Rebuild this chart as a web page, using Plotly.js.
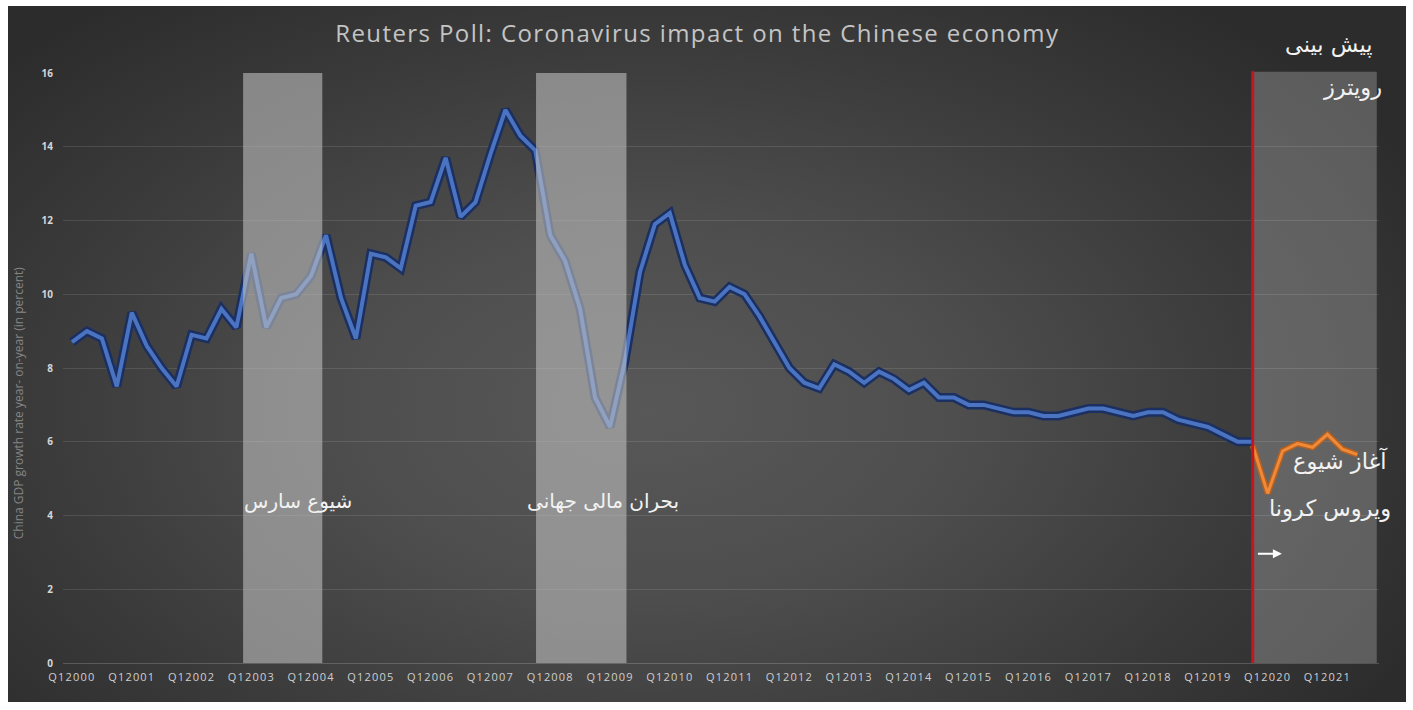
<!DOCTYPE html>
<html>
<head>
<meta charset="utf-8">
<script src="https://cdn.plot.ly/plotly-3.0.1.min.js"></script>
<style>
  html, body { margin: 0; padding: 0; background: #ffffff; width: 1413px; height: 710px; overflow: hidden; }
  #bg { position: absolute; left: 8px; top: 6px; right: 7px; bottom: 8px;
        background: radial-gradient(ellipse 62% 75% at 46% 58%, #585858 0%, #4e4e4e 35%, #3b3b3b 70%, #2c2c2c 100%); }
  #chart { position: absolute; left: 0; top: 0; width: 1413px; height: 710px; }
  #chart .gtitle { letter-spacing: 1.4px; }
  #chart .xtick text { letter-spacing: 1.2px; }
</style>
</head>
<body>
<div id="bg"></div>
<div id="chart"></div>
<script>
// ---- data ----
const years = [];
for (let y = 2000; y <= 2021; y++) years.push(y);
const quarterLabels = [];
years.forEach(y => { for (let q = 1; q <= 4; q++) quarterLabels.push('Q' + q + y); });

const tickIdx = years.map((y, i) => i * 4);
const tickText = years.map(y => 'Q1' + y);

const gdpActual = [
  8.7, 9.0, 8.8, 7.5, 9.5, 8.6, 8.0, 7.5, 8.9, 8.8,
  9.6, 9.1, 11.1, 9.1, 9.9, 10.0, 10.5, 11.6, 9.9, 8.8,
  11.1, 11.0, 10.7, 12.4, 12.5, 13.7, 12.1, 12.5, 13.8, 15.0,
  14.3, 13.9, 11.6, 10.9, 9.6, 7.2, 6.4, 8.2, 10.6, 11.9,
  12.2, 10.8, 9.9, 9.8, 10.2, 10.0, 9.4, 8.7, 8.0, 7.6,
  7.45, 8.1, 7.9, 7.6, 7.9, 7.7, 7.4, 7.6, 7.2, 7.2,
  7.0, 7.0, 6.9, 6.8, 6.8, 6.7, 6.7, 6.8, 6.9, 6.9,
  6.8, 6.7, 6.8, 6.8, 6.6, 6.5, 6.4, 6.2, 6.0, 6.0
];
const gdpForecast = [5.9, 4.6, 5.75, 5.95, 5.85, 6.2, 5.8, 5.65];

const actualX = gdpActual.map((v, i) => i);
const forecastStart = gdpActual.length - 1;
const forecastX = gdpForecast.map((v, i) => forecastStart + i);

const sarsPeriod = [11.45, 16.75];
const crisisPeriod = [31.05, 37.1];
const forecastPeriod = [79, 87.3];

// ---- traces ----
const traces = [
  { x: actualX, y: gdpActual, type: 'scatter', mode: 'lines',
    line: { color: '#1b2f60', width: 9 }, hoverinfo: 'skip', showlegend: false },
  { x: actualX, y: gdpActual, type: 'scatter', mode: 'lines',
    line: { color: '#4a74c2', width: 4 }, showlegend: false,
    text: actualX.map(i => quarterLabels[i]), hovertemplate: '%{text}: %{y}<extra></extra>' },
  { x: forecastX, y: gdpForecast, type: 'scatter', mode: 'lines',
    line: { color: '#b5601f', width: 6 }, hoverinfo: 'skip', showlegend: false },
  { x: forecastX, y: gdpForecast, type: 'scatter', mode: 'lines',
    line: { color: '#ee8a3a', width: 3 }, showlegend: false,
    text: forecastX.map(i => quarterLabels[i]), hovertemplate: '%{text}: %{y}<extra></extra>' }
];

const persianFont = { family: 'DejaVu Sans, Noto Sans, sans-serif', size: 20, color: '#f2f2f2' };
const persianFontLarge = { family: 'DejaVu Sans, Noto Sans, sans-serif', size: 22.5, color: '#f2f2f2' };

const layout = {
  width: 1413, height: 710,
  margin: { l: 63, r: 34, t: 73, b: 47 },
  paper_bgcolor: 'rgba(0,0,0,0)',
  plot_bgcolor: 'rgba(0,0,0,0)',
  title: {
    text: 'Reuters Poll: Coronavirus impact on the Chinese economy',
    font: { family: 'Open Sans, sans-serif', size: 24, color: '#c4c4c4' },
    x: 0.4935, xanchor: 'center', y: 0.953, yanchor: 'middle', yref: 'container'
  },
  xaxis: {
    range: [-0.6, 87.45],
    tickmode: 'array', tickvals: tickIdx, ticktext: tickText,
    tickfont: { family: 'Open Sans, sans-serif', size: 11, color: '#cfcfcf' },
    showgrid: false, zeroline: false,
    showline: true, linecolor: 'rgba(255,255,255,0.18)', linewidth: 1,
    ticks: '', ticklabelstandoff: 4, fixedrange: true
  },
  yaxis: {
    range: [0, 16], dtick: 2, tick0: 0,
    tickfont: { family: 'Open Sans, sans-serif', size: 10, color: '#d6d6d6', weight: 700 },
    showgrid: true, gridcolor: 'rgba(255,255,255,0.11)', gridwidth: 1,
    zeroline: false, showline: false, ticks: '', ticklabelstandoff: 9, fixedrange: true
  },
  shapes: [
    { type: 'rect', xref: 'x', yref: 'paper', x0: forecastPeriod[0], x1: forecastPeriod[1], y0: 0, y1: 1.002,
      fillcolor: 'rgba(160,160,160,0.42)', line: { width: 0 }, layer: 'below' },
    { type: 'rect', xref: 'x', yref: 'paper', x0: sarsPeriod[0], x1: sarsPeriod[1], y0: 0, y1: 1,
      fillcolor: 'rgba(190,190,190,0.6)', line: { width: 0 }, layer: 'above' },
    { type: 'rect', xref: 'x', yref: 'paper', x0: crisisPeriod[0], x1: crisisPeriod[1], y0: 0, y1: 1,
      fillcolor: 'rgba(190,190,190,0.6)', line: { width: 0 }, layer: 'above' },
    { type: 'line', xref: 'x', yref: 'paper', x0: forecastPeriod[0], x1: forecastPeriod[0], y0: 0, y1: 1.003,
      line: { color: '#c8141c', width: 3 }, layer: 'above' }
  ],
  annotations: [
    { text: 'China GDP growth rate year- on-year (in percent)', textangle: -90,
      xref: 'paper', yref: 'y', x: -0.034, y: 7.05, xanchor: 'center', yanchor: 'middle',
      showarrow: false, font: { family: 'Open Sans, sans-serif', size: 12, color: '#858585' } },
    { text: 'شیوع سارس', xref: 'x', yref: 'y', x: 15.13, y: 4.39, xanchor: 'center', yanchor: 'middle',
      showarrow: false, font: persianFont },
    { text: 'بحران مالی جهانی', xref: 'x', yref: 'y', x: 35.54, y: 4.39, xanchor: 'center', yanchor: 'middle',
      showarrow: false, font: persianFont },
    { text: 'پیش بینی', xref: 'x', yref: 'paper', x: 84.07, y: 1.049, xanchor: 'center', yanchor: 'middle',
      showarrow: false, font: persianFontLarge },
    { text: 'رویترز', xref: 'x', yref: 'y', x: 85.68, y: 15.62, xanchor: 'center', yanchor: 'middle',
      showarrow: false, font: persianFontLarge },
    { text: 'آغاز شیوع', xref: 'x', yref: 'y', x: 84.87, y: 5.48, xanchor: 'center', yanchor: 'middle',
      showarrow: false, font: persianFontLarge },
    { text: 'ویروس کرونا', xref: 'x', yref: 'y', x: 84.14, y: 4.2, xanchor: 'center', yanchor: 'middle',
      showarrow: false, font: persianFontLarge },
    { text: '', xref: 'x', yref: 'y', x: 80.95, y: 2.96, axref: 'x', ayref: 'y', ax: 79.25, ay: 2.96,
      showarrow: true, arrowhead: 2, arrowsize: 0.9, arrowwidth: 2, arrowcolor: '#ffffff' }
  ]
};

Plotly.newPlot('chart', traces, layout, { displayModeBar: false, responsive: false });
</script>
</body>
</html>
